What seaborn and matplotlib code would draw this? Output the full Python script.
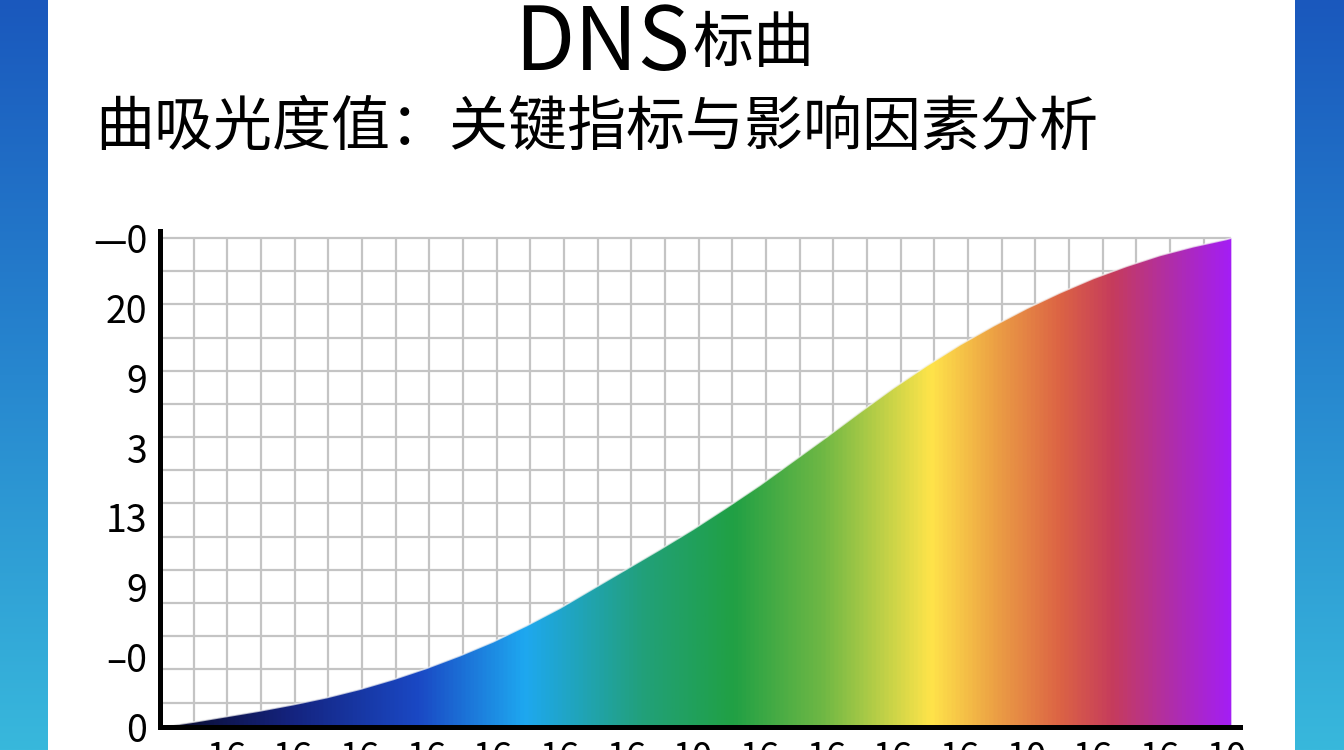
import numpy as np
import pandas as pd
import seaborn as sns
import matplotlib.pyplot as plt
from matplotlib.colors import LinearSegmentedColormap

# values
x_vals = [0, 0.5, 1, 1.5, 2, 2.5, 3, 3.5, 4, 4.5, 5, 5.5, 6, 6.5, 7, 7.5, 8, 8.5,
          9, 9.5, 10, 10.5, 11, 11.5, 12, 12.5, 13, 13.5, 14, 14.5, 15, 15.5, 16, 16.07]
absorb = [0, 0.07, 0.15, 0.23, 0.32, 0.42, 0.54, 0.68, 0.84, 1.02, 1.22, 1.45, 1.70, 1.98,
          2.26, 2.54, 2.83, 3.14, 3.46, 3.805, 4.15, 4.505, 4.85, 5.17, 5.47, 5.74, 5.99,
          6.215, 6.42, 6.595, 6.75, 6.875, 6.98, 7.0]

y_ticks = [0, 1, 2, 3, 4, 5, 6, 7]
y_labels = ["0", "–0", "9", "13", "3", "9", "20", "—0"]
x_ticks = list(range(1, 17))
x_labels = ["16"] * 7 + ["10"] + ["16"] * 4 + ["10"] + ["16"] * 2 + ["10"]

title_a = "DNS"
title_b = "标曲"
subtitle = "曲吸光度值：关键指标与影响因素分析"

df = pd.DataFrame({"x": x_vals, "y": absorb})

sns.set_theme(style="white")
plt.rcParams['font.family'] = ['Noto Sans CJK SC', 'DejaVu Sans']
plt.rcParams['text.color'] = 'black'
plt.rcParams['xtick.color'] = 'black'
plt.rcParams['ytick.color'] = 'black'

fig = plt.figure(figsize=(13.44, 7.5), dpi=100, facecolor="white")

# blue side strips
side_cmap = LinearSegmentedColormap.from_list("side", ["#1a58bd", "#2787cf", "#38b8dc"])
grad_v = np.linspace(0, 1, 256).reshape(-1, 1)
for left, w in [(0, 48 / 1344), (1295 / 1344, 49 / 1344)]:
    bg = fig.add_axes([left, 0, w, 1])
    bg.imshow(grad_v, aspect="auto", cmap=side_cmap, extent=[0, 1, 0, 1], origin="upper")
    bg.axis("off")

ax = fig.add_axes([160 / 1344, 23 / 750, 1080 / 1344, 496 / 750])
ax.set_xlim(0, 16.2)
ax.set_ylim(0, 7.1)
ax.set_facecolor("none")

# graph-paper grid
grid_c = "#c4c4c4"
ax.vlines(np.arange(0.505, 16.0, 0.505), 0, 7.0, color=grid_c, lw=1.6, zorder=0)
ax.hlines(np.arange(7.0, 0.2, -0.475), 0, 16.07, color=grid_c, lw=1.6, zorder=0)

# rainbow area under the curve
rainbow = LinearSegmentedColormap.from_list("rainbow_fill", [
    (0.00, "#0a0a28"), (0.12, "#14237e"), (0.24, "#1a48c4"), (0.34, "#1ea8f0"),
    (0.45, "#22a07a"), (0.535, "#20a044"), (0.62, "#70b844"), (0.72, "#ffe44a"),
    (0.78, "#eca044"), (0.84, "#dc6444"), (0.89, "#c63c5c"), (0.95, "#ae2cb0"),
    (1.00, "#a41ef4")])
poly = ax.fill_between(df["x"], 0, df["y"], color="none", lw=0)
grad_h = np.linspace(0, 1, 512).reshape(1, -1)
img = ax.imshow(grad_h, aspect="auto", cmap=rainbow, extent=[0, max(x_vals), 0, max(absorb)],
                origin="lower", zorder=1)
img.set_clip_path(poly.get_paths()[0], transform=ax.transData)
sns.lineplot(data=df, x="x", y="y", color="#f4f4f4", lw=1.2, alpha=0.7, ax=ax, zorder=2)

# axes styling
for s in ["top", "right"]:
    ax.spines[s].set_visible(False)
for s in ["left", "bottom"]:
    ax.spines[s].set_color("black")
    ax.spines[s].set_linewidth(3.6)
    ax.spines[s].set_zorder(3)

ax.set_yticks(y_ticks)
ax.set_yticklabels(y_labels, fontsize=27, style="italic")
ax.set_xticks(x_ticks)
ax.set_xticklabels(x_labels, fontsize=26, style="italic")
ax.tick_params(axis="y", length=9, width=2.2, color="black", pad=0, direction="out")
ax.tick_params(axis="x", length=7, width=2.2, color="black", pad=2, direction="out")
ax.set_xlabel("")
ax.set_ylabel("")

# titles
fig.text(0.513, 1 - 70 / 750, title_a, fontsize=63, style="italic", ha="right", va="baseline")
fig.text(0.515, 1 - 62 / 750, title_b, fontsize=44, ha="left", va="baseline")
fig.text(95 / 1344, 1 - 128 / 750, subtitle, fontsize=42.5, ha="left", va="center")

fig.savefig("out.png", dpi=100, facecolor="white")
